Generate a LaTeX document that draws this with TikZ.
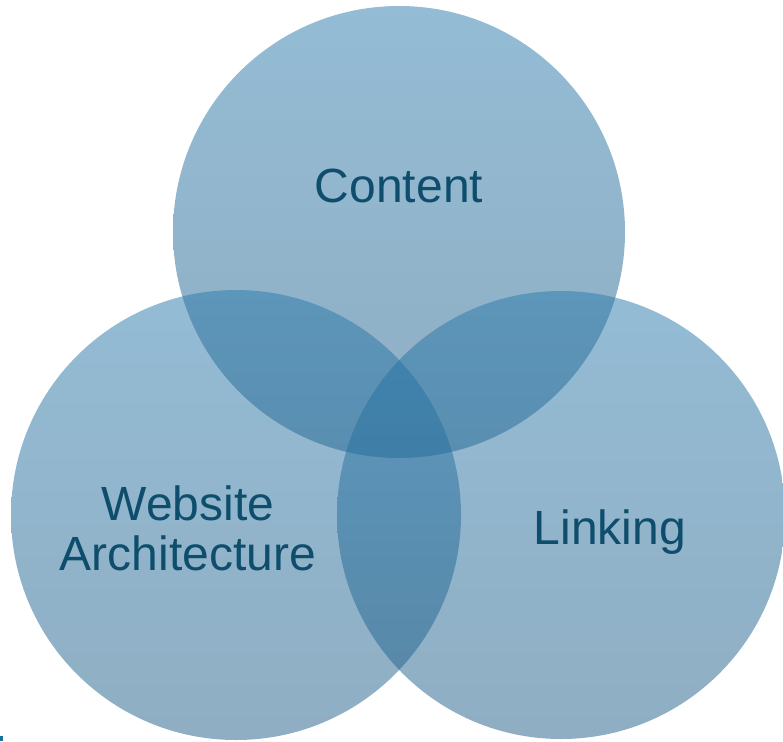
\documentclass[tikz,border=0pt]{standalone}
\usepackage{fontspec}
\setmainfont{Liberation Sans}
\definecolor{ctop}{RGB}{41,121,171}
\definecolor{cbot}{RGB}{31,93,135}
\definecolor{txt}{RGB}{14,78,108}
\definecolor{dotc}{RGB}{30,110,160}
\tikzset{
  venn/.style={top color=ctop, bottom color=cbot, fill opacity=0.5, draw=none},
  lbl/.style={text=txt, font=\fontsize{48}{50}\selectfont, align=center, inner sep=0pt}
}
\begin{document}
\begin{tikzpicture}[x=1pt,y=-1pt]
\useasboundingbox (0,0) rectangle (783,741);
\shade[venn] (399,232) circle (226);
\shade[venn] (236,515) circle (225);
\shade[venn] (561,515) circle (224);
\node[lbl] (content) at (399,186) {Content};
\node[lbl] (web) at (188,528) {Website\\Architecture};
\node[lbl] (link) at (610,532) {Linking};
\fill[dotc] (0,736) rectangle (2.5,741);
\end{tikzpicture}
\end{document}
